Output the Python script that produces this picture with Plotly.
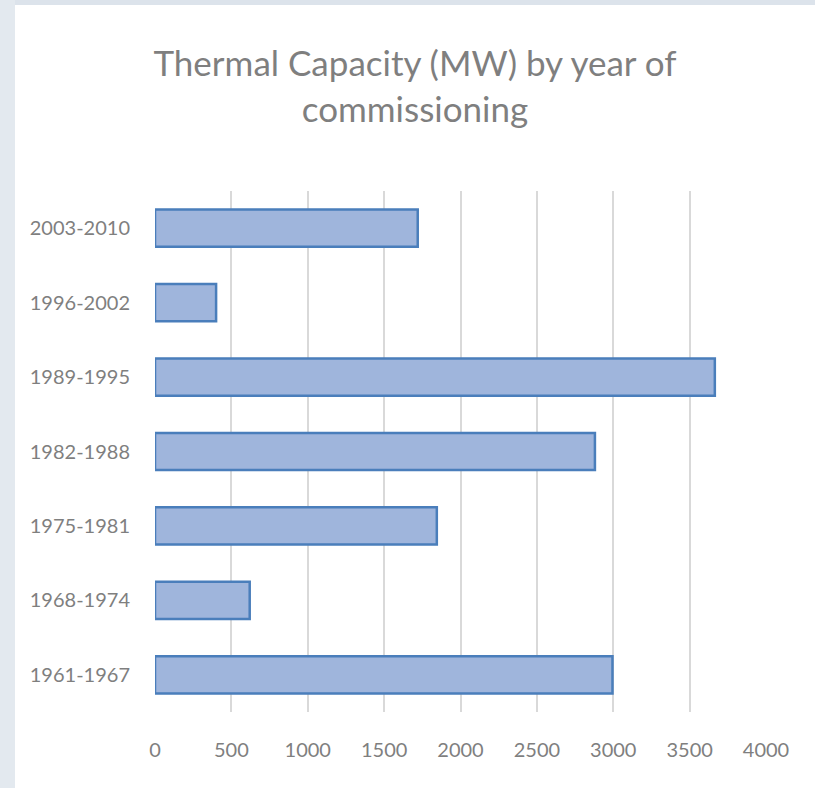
import plotly.graph_objects as go

# capacity per commissioning period (bottom to top)
periods = ["1961-1967", "1968-1974", "1975-1981", "1982-1988", "1989-1995", "1996-2002", "2003-2010"]
capacity_mw = [2995, 620, 1845, 2880, 3665, 400, 1720]

W, H = 815, 788
L, R, T, B = 155, 49, 191, 76
pw, ph = W - L - R, H - T - B
FONT = "Lato, Carlito, Calibri, sans-serif"


def px_x(p):
    return (p - L) / pw


def px_y(p):
    return (H - B - p) / ph


fig = go.Figure(go.Bar(
    x=capacity_mw, y=periods, orientation="h",
    marker=dict(color="#9fb5dc", line=dict(color="#4a7ebb", width=2.5)),
    hoverinfo="x+y",
))

# light frame on the top and left edge of the picture
fig.add_shape(type="rect", xref="paper", yref="paper", layer="below", line_width=0,
              x0=px_x(0), x1=px_x(W), y0=px_y(5), y1=px_y(0), fillcolor="#dce3eb")
fig.add_shape(type="rect", xref="paper", yref="paper", layer="below", line_width=0,
              x0=px_x(0), x1=px_x(15), y0=px_y(H), y1=px_y(0), fillcolor="#e3e9ef")

fig.update_layout(
    width=W, height=H,
    margin=dict(l=L, r=R, t=T, b=B),
    paper_bgcolor="white", plot_bgcolor="white",
    showlegend=False, bargap=0.5,
    title=dict(text="Thermal Capacity (MW) by year of<br>commissioning",
               x=415 / W, xanchor="center", y=1 - 76 / H, yanchor="top",
               font=dict(family=FONT, size=35, color="#7f7f7f")),
    font=dict(family=FONT, color="#7f7f7f"),
)
fig.update_xaxes(range=[0, 4000], dtick=500, showgrid=True, gridcolor="#d9d9d9", gridwidth=1.5,
                 zeroline=False, showline=False, ticks="outside", ticklen=20,
                 tickcolor="rgba(0,0,0,0)", tickfont=dict(size=20, color="#7f7f7f"))
fig.update_yaxes(showgrid=False, zeroline=False, showline=False, ticks="outside", ticklen=20,
                 tickcolor="rgba(0,0,0,0)", tickfont=dict(size=20, color="#7f7f7f"))

fig.write_html("out.html", config={"displayModeBar": False},
               post_script="document.body.style.margin = '0';")
